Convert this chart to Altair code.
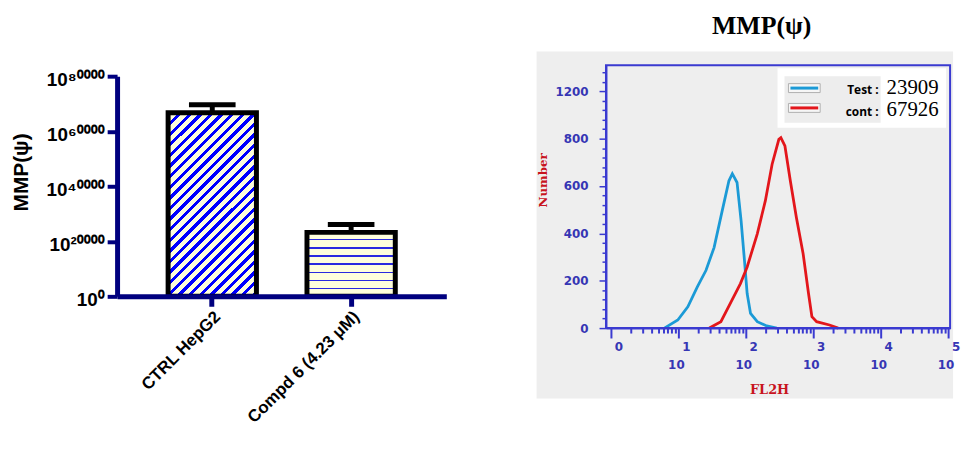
import altair as alt
import pandas as pd

# ---------------- data: left panel (bar chart) ----------------
groups = ["CTRL HepG2", "Compd 6 (4.23 μM)"]
mmp_means = [66740, 23240]
mmp_err_top = [69620, 26130]
y_tick_values = [0, 20000, 40000, 60000, 80000]

# ---------------- data: right panel (flow histogram) ----------------
test_fl2h = [6.2, 9.8, 13.8, 19.1, 25.7, 33.9, 44.7, 56.2, 63.1, 74.1, 85.1, 95.5,
             104.7, 117.5, 147.9, 204.2, 288.4]
test_count = [0, 34, 90, 174, 244, 341, 496, 622, 652, 615, 454, 286, 146, 62, 27, 9, 0]
cont_fl2h = [28.8, 42.7, 58.9, 83.2, 104.7, 147.9, 195.0, 245.5, 309.0, 331.1, 380.2,
             457.1, 562.3, 707.9, 851.1, 955.0, 1122, 1738, 2344]
cont_count = [0, 27, 104, 188, 258, 398, 538, 692, 797, 804, 769, 622, 467, 314, 146,
              48, 27, 13, 0]
hist_y_ticks = [0, 200, 400, 600, 800, 1000]
hist_y_labels = ["0", "200", "400", "600", "800", "1200"]
decades = [0, 1, 2, 3, 4, 5]
legend_names = ["Test :", "cont :"]
legend_values = ["23909", "67926"]
legend_colors = ["#1b9ad6", "#e3161b"]

# ---------------- styles ----------------
NAVY = "#00007f"
BLUE_STRIPE = "#0000ff"
CREAM = "#ffffdc"
LAB_BLUE = "#3636b4"
FRAME_BLUE = "#3a3ad0"
RED_TXT = "#c8141e"
W1, H1 = 332, 233
TOP1 = 11            # left plot's top offset inside its cell
W2, H2 = 347, 265
Y1_MAX = 80000
PX_PER = (H1 - TOP1) / Y1_MAX


def diag_gradient(value):
    # 45 degree "/" stripes, computed in pixel space of the bar
    w = 89.0
    h = value * PX_PER
    r = h / w
    k = (1 + r) / (1 + r * r)
    total = w + h
    period, bw = 10.7, 4.4
    stops = []
    s = 0.0
    while s < total:
        a, b, c = s / total, min((s + bw) / total, 1), min((s + period) / total, 1)
        stops += [alt.GradientStop(color=BLUE_STRIPE, offset=a),
                  alt.GradientStop(color=BLUE_STRIPE, offset=b),
                  alt.GradientStop(color=CREAM, offset=b),
                  alt.GradientStop(color=CREAM, offset=c)]
        s += period
    return alt.LinearGradient(gradient="linear", stops=stops, x1=0, y1=0, x2=k, y2=k * r)


def horiz_gradient(value):
    h = value * PX_PER
    stops = [alt.GradientStop(color=CREAM, offset=0)]
    y = 6.7
    while y + 1.4 < h:
        stops += [alt.GradientStop(color=CREAM, offset=y / h),
                  alt.GradientStop(color="#2a2ae0", offset=y / h),
                  alt.GradientStop(color="#2a2ae0", offset=(y + 1.4) / h),
                  alt.GradientStop(color=CREAM, offset=(y + 1.4) / h)]
        y += 8.2
    stops.append(alt.GradientStop(color=CREAM, offset=1))
    return alt.LinearGradient(gradient="linear", stops=stops, x1=0, y1=0, x2=0, y2=1)


sup = str.maketrans("0123456789", "⁰¹²³⁴⁵⁶⁷⁸⁹")
y1_label_expr = " : ".join(
    f"datum.value == {v} ? '10{str(v).translate(sup)}'" for v in y_tick_values) + " : ''"

# ---------------- left panel ----------------
bars_df = pd.DataFrame({"group": groups, "mean": mmp_means, "top": mmp_err_top})
one = pd.DataFrame({"t": ["MMP(ψ)"]})

x1_enc = alt.X("group:N", title=None,
               scale=alt.Scale(domain=groups, paddingInner=0.364, paddingOuter=0.3675),
               axis=alt.Axis(labelAngle=-45, labelFont="Liberation Sans", labelFontWeight="bold",
                             labelFontSize=17, labelColor="black", domainColor=NAVY,
                             domainWidth=5, tickColor=NAVY, tickWidth=5, tickSize=10,
                             labelPadding=2, zindex=1))
y1_enc = alt.Y("mean:Q", title=None,
               scale=alt.Scale(domain=[0, Y1_MAX], nice=False, range=[H1, TOP1]),
               axis=alt.Axis(values=y_tick_values, labelExpr=y1_label_expr,
                             labelFont="Liberation Sans", labelFontWeight="bold",
                             labelFontSize=19, labelColor="black", domainColor=NAVY,
                             domainWidth=5, tickColor=NAVY, tickWidth=4, tickSize=10,
                             labelPadding=3, labelOffset=3, grid=False, labelFlush=False,
                             labelOverlap=False, zindex=1))

# white (invisible on the white page) layout spacer for the left cell
spacer1 = alt.Chart(one).mark_rect(fill="white").encode(
    x=alt.value(-110), x2=alt.value(352), y=alt.value(-56), y2=alt.value(H1))

bar_layers = []
for g, m, grad in [(groups[0], mmp_means[0], diag_gradient(mmp_means[0])),
                   (groups[1], mmp_means[1], horiz_gradient(mmp_means[1]))]:
    bar_layers.append(
        alt.Chart(bars_df).transform_filter(alt.datum.group == g)
        .mark_bar(fill=grad, stroke="black", strokeWidth=5)
        .encode(x=x1_enc, y=y1_enc))

err_rule = alt.Chart(bars_df).mark_rule(color="black", strokeWidth=5).encode(
    x=alt.X("group:N", title=None), y=alt.Y("mean:Q", title=None), y2="top:Q")
err_cap = alt.Chart(bars_df).mark_tick(color="black", thickness=5, size=47, opacity=1).encode(
    x=alt.X("group:N", title=None), y=alt.Y("top:Q", title=None))
ytitle1 = alt.Chart(one).mark_text(angle=270, font="Liberation Sans", fontWeight="bold",
                                   fontSize=21, align="center", baseline="middle",
                                   color="black").encode(
    x=alt.value(-95.5), y=alt.value(97 + TOP1), text="t:N")

left = alt.layer(spacer1, *bar_layers, err_rule, err_cap, ytitle1).properties(
    width=W1, height=H1)

# ---------------- right panel ----------------
hist_df = pd.concat([
    pd.DataFrame({"series": "Test", "fl2h": test_fl2h, "count": test_count}),
    pd.DataFrame({"series": "cont", "fl2h": cont_fl2h, "count": cont_count}),
])
x2_scale = alt.Scale(type="log", domain=[0.844, 107000], nice=False)
y2_scale = alt.Scale(domain=[0, 1110], nice=False)

x2_ticks = [m * 10 ** k for k in range(5) for m in range(1, 10)] + [100000]
y2_ticks = list(range(0, 1110, 40))
y2_label_expr = " : ".join(
    f"datum.value == {v} ? '{lab}'" for v, lab in zip(hist_y_ticks, hist_y_labels)) + " : ''"

x2_axis = alt.Axis(values=x2_ticks, labels=False, grid=False, domainColor=FRAME_BLUE,
                   domainWidth=2, tickColor=FRAME_BLUE, tickWidth=2,
                   tickSize={"condition": {"test": "abs(log(datum.value)/LN10 - round(log(datum.value)/LN10)) < 0.001",
                                           "value": 10}, "value": 5},
                   zindex=1)
y2_axis = alt.Axis(values=y2_ticks, labelExpr=y2_label_expr, grid=False,
                   domainColor=FRAME_BLUE, domainWidth=2, tickColor=FRAME_BLUE, tickWidth=1.5,
                   tickSize={"condition": {"test": "datum.value % 200 == 0", "value": 7},
                             "value": 4},
                   labelFont="DejaVu Sans", labelFontWeight="bold", labelFontSize=12,
                   labelColor=LAB_BLUE, labelPadding=11, labelOverlap=False, labelFlush=False,
                   zindex=1)

spacer2 = alt.Chart(one).mark_rect(fill="white").encode(
    x=alt.value(-70), x2=alt.value(0), y=alt.value(-56), y2=alt.value(-14))
gray = alt.Chart(one).mark_rect(fill="#eeeeee").encode(
    x=alt.value(-70), x2=alt.value(350), y=alt.value(-14), y2=alt.value(336))

curves = alt.Chart(hist_df).mark_line(strokeWidth=2.8, interpolate="linear").encode(
    x=alt.X("fl2h:Q", title=None, scale=x2_scale, axis=x2_axis),
    y=alt.Y("count:Q", title=None, scale=y2_scale, axis=y2_axis),
    color=alt.Color("series:N", scale=alt.Scale(domain=["Test", "cont"], range=legend_colors),
                    legend=None),
)
frame = alt.Chart(one).mark_rect(fillOpacity=0, stroke=FRAME_BLUE, strokeWidth=2).encode(
    x=alt.value(0), x2=alt.value(W2), y=alt.value(0), y2=alt.value(H2))

dec_df = pd.DataFrame({"fl2h": [10 ** e for e in decades], "e": [str(e) for e in decades],
                       "n": decades})
exps = alt.Chart(dec_df).mark_text(font="DejaVu Sans", fontWeight="bold", fontSize=12,
                                   color=LAB_BLUE, dx=8, baseline="middle").encode(
    x=alt.X("fl2h:Q", title=None), y=alt.value(284), text="e:N")
tens = alt.Chart(dec_df).transform_filter("datum.n > 0").mark_text(
    font="DejaVu Sans", fontWeight="bold", fontSize=12, color=LAB_BLUE, dx=-2,
    baseline="middle").encode(x=alt.X("fl2h:Q", title=None), y=alt.value(302),
                              text=alt.value("10"))

legend_layers = [
    alt.Chart(one).mark_rect(fill="white").encode(
        x=alt.value(173), x2=alt.value(343), y=alt.value(3), y2=alt.value(63)),
    alt.Chart(one).mark_rect(fill="#ededed").encode(
        x=alt.value(180), x2=alt.value(277), y=alt.value(11), y2=alt.value(58)),
]
for i, (nm, val, col) in enumerate(zip(legend_names, legend_values, legend_colors)):
    yy = 23 + 20 * i          # swatch centre
    yt = 29 + 22 * i          # text baseline
    legend_layers += [
        alt.Chart(one).mark_rect(fill="#f6f6f6", stroke="#b0b0b0", strokeWidth=1).encode(
            x=alt.value(184), x2=alt.value(216), y=alt.value(yy - 4.5), y2=alt.value(yy + 4.5)),
        alt.Chart(one).mark_rule(color=col, strokeWidth=3).encode(
            x=alt.value(186), x2=alt.value(214), y=alt.value(yy)),
        alt.Chart(one).mark_text(font="Open Sans", fontWeight="bold", fontSize=12,
                                 align="right", baseline="alphabetic", color="black").encode(
            x=alt.value(275), y=alt.value(yt), text=alt.value(nm)),
        alt.Chart(one).mark_text(font="Liberation Serif", fontSize=21, align="left",
                                 baseline="alphabetic", color="black").encode(
            x=alt.value(283), y=alt.value(yt), text=alt.value(val)),
    ]

title2 = alt.Chart(one).mark_text(font="Liberation Serif", fontWeight="bold", fontSize=26,
                                  align="center", baseline="top", color="black").encode(
    x=alt.value(157), y=alt.value(-53), text="t:N")
xtitle2 = alt.Chart(one).mark_text(font="DejaVu Serif", fontWeight="bold", fontSize=13,
                                   align="center", baseline="alphabetic", color=RED_TXT).encode(
    x=alt.value(165), y=alt.value(331), text=alt.value("FL2H"))
ytitle2 = alt.Chart(one).mark_text(font="DejaVu Serif", fontWeight="bold", fontSize=12,
                                   angle=270, align="center", baseline="middle",
                                   color=RED_TXT).encode(
    x=alt.value(-63), y=alt.value(116), text=alt.value("Number"))

right = alt.layer(spacer2, gray, curves, frame, tens, exps, *legend_layers,
                  title2, xtitle2, ytitle2).properties(width=W2, height=H2)

chart = alt.hconcat(left, right, spacing=71).properties(padding=0).configure_view(stroke=None)
chart.save("out.html", embed_options={"renderer": "svg", "actions": False})
